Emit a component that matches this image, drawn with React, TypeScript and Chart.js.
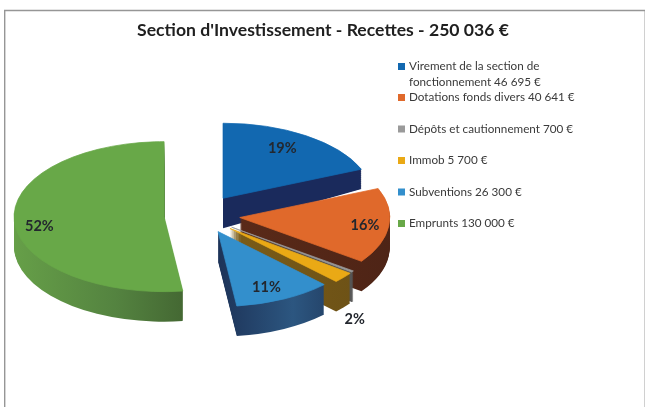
import React, { useEffect, useRef } from "react";
import { Chart, registerables } from "chart.js";

Chart.register(...registerables);

const titleText = "Section d'Investissement - Recettes - 250 036 €";
const categories = [
  ["Virement de la section de", "fonctionnement 46 695 €"],
  ["Dotations fonds divers 40 641 €"],
  ["Dépôts et cautionnement 700 €"],
  ["Immob 5 700 €"],
  ["Subventions 26 300 €"],
  ["Emprunts 130 000 €"],
];
const values = [46695, 40641, 700, 5700, 26300, 130000];
const percentLabels = ["19%", "16%", "", "2%", "11%", "52%"];

const topColors = ["#1268b0", "#e0692b", "#9a9a9a", "#eaa915", "#338fcc", "#68a848"];
const wallColors = [
  ["#1a2a5c", "#1a2a5c"],
  ["#5a2a18", "#4e2416"],
  ["#555555", "#555555"],
  ["#7a5c18", "#6b5016"],
  ["#1d3358", "#2c5680", "#1c2f50"],
  ["#669f48", "#548340", "#3c5a2c"],
];
const explode = [32.6, 35, 33, 33, 29.7, 41];
const labelRadius = [107, 126, 0, 165, 110, 125];
const labelShift = [-5, 1, 0, 37, 6, 6];
const legendRows = [66.5, 97.5, 129, 160.5, 192, 223.5];

const SQUASH = 0.5;
const EXPLODE_Y = 0.62;
const DEPTH = 30;
const PIE_SHIFT_X = -118;

const pie3d = {
  id: "pie3d",
  beforeDraw(chart: any) {
    const { ctx, width, height } = chart;
    ctx.save();
    ctx.fillStyle = "#ffffff";
    ctx.fillRect(0, 0, width, height);
    ctx.strokeStyle = "#d0d0d0";
    ctx.lineWidth = 1;
    ctx.beginPath();
    ctx.moveTo(644.5, 10);
    ctx.lineTo(644.5, height);
    ctx.stroke();
    ctx.strokeStyle = "#969696";
    ctx.lineWidth = 1.4;
    ctx.beginPath();
    ctx.moveTo(4.7, height);
    ctx.lineTo(4.7, 10.5);
    ctx.lineTo(width - 1, 10.5);
    ctx.stroke();
    ctx.restore();
  },
  beforeDatasetDraw(chart: any) {
    const { ctx } = chart;
    const arcs = chart.getDatasetMeta(0).data;
    const base = {
      borderWidth: 0,
      borderColor: "transparent",
      borderRadius: 0,
      borderAlign: "center",
      offset: 0,
      spacing: 0,
      circular: true,
      borderJoinStyle: "round",
    };
    arcs.forEach((el: any, i: number) => {
      const mid = (el.startAngle + el.endAngle) / 2;
      const ox = Math.cos(mid) * explode[i] + PIE_SHIFT_X;
      const oy = Math.sin(mid) * explode[i] * EXPLODE_Y;
      const saved = el.options;
      const place = (d: number, shear: number) => {
        ctx.translate(el.x + ox, el.y + oy + d);
        ctx.transform(1, shear, 0, 1, 0, 0);
        ctx.scale(1, SQUASH);
        ctx.translate(-el.x, -el.y);
      };
      const grad = ctx.createLinearGradient(el.x - 150, 0, el.x + 150, 0);
      const stops = wallColors[i];
      stops.forEach((c: string, k: number) => {
        const t = k / (stops.length - 1);
        grad.addColorStop(i === 5 ? t * 0.68 : 0.5 + t * 0.5, c);
      });
      // Side walls: the arc itself stamped downward, deepest layer first.
      for (let d = DEPTH; d >= 1; d--) {
        ctx.save();
        const shear = i === 0 ? (-10 / 137) * (d / DEPTH) : 0;
        place(d, shear);
        el.options = { ...base, backgroundColor: grad };
        el.draw(ctx);
        ctx.restore();
      }
      ctx.save();
      place(0, 0);
      el.options = { ...base, backgroundColor: topColors[i], borderColor: topColors[i], borderWidth: 1 };
      el.draw(ctx);
      ctx.restore();
      el.options = saved;
    });
    // Percentage labels
    ctx.save();
    ctx.font = "bold 14.5px Lato";
    ctx.fillStyle = "#23272e";
    ctx.textAlign = "center";
    ctx.textBaseline = "middle";
    arcs.forEach((el: any, i: number) => {
      if (!percentLabels[i]) return;
      const mid = (el.startAngle + el.endAngle) / 2;
      const x = el.x + PIE_SHIFT_X + Math.cos(mid) * (explode[i] + labelRadius[i]);
      const y =
        el.y +
        Math.sin(mid) * explode[i] * EXPLODE_Y +
        Math.sin(mid) * labelRadius[i] * SQUASH +
        labelShift[i];
      ctx.fillText(percentLabels[i], x, y);
    });
    ctx.restore();
    // Legend
    ctx.save();
    ctx.font = "11.7px Lato";
    ctx.textAlign = "left";
    ctx.textBaseline = "middle";
    categories.forEach((lines, i) => {
      ctx.fillStyle = topColors[i];
      ctx.fillRect(398, legendRows[i] - 3.5, 7, 7);
      ctx.fillStyle = "#3a3a3a";
      lines.forEach((t, k) => ctx.fillText(t, 409, legendRows[i] + k * 15.5));
    });
    ctx.restore();
    return false;
  },
};

export default function App() {
  const ref = useRef<HTMLCanvasElement>(null);
  useEffect(() => {
    document.body.style.margin = "0";
    const chart = new Chart(ref.current as HTMLCanvasElement, {
      type: "pie",
      data: {
        labels: categories.map((c) => c.join(" ")),
        datasets: [{ data: values, backgroundColor: topColors, borderWidth: 0 }],
      },
      options: {
        animation: false,
        responsive: false,
        radius: 150,
        layout: { padding: { left: 0, right: 0, top: 0, bottom: 22 } },
        plugins: {
          legend: { display: false },
          tooltip: { enabled: false },
          title: {
            display: true,
            text: titleText,
            color: "#1f1f1f",
            font: { family: "Lato", size: 17.6, weight: "bold" },
            padding: { top: 20, bottom: 4 },
          },
        },
      } as any,
      plugins: [pie3d as any],
    });
    return () => chart.destroy();
  }, []);
  return <canvas ref={ref} width={646} height={407} style={{ display: "block" }} />;
}
